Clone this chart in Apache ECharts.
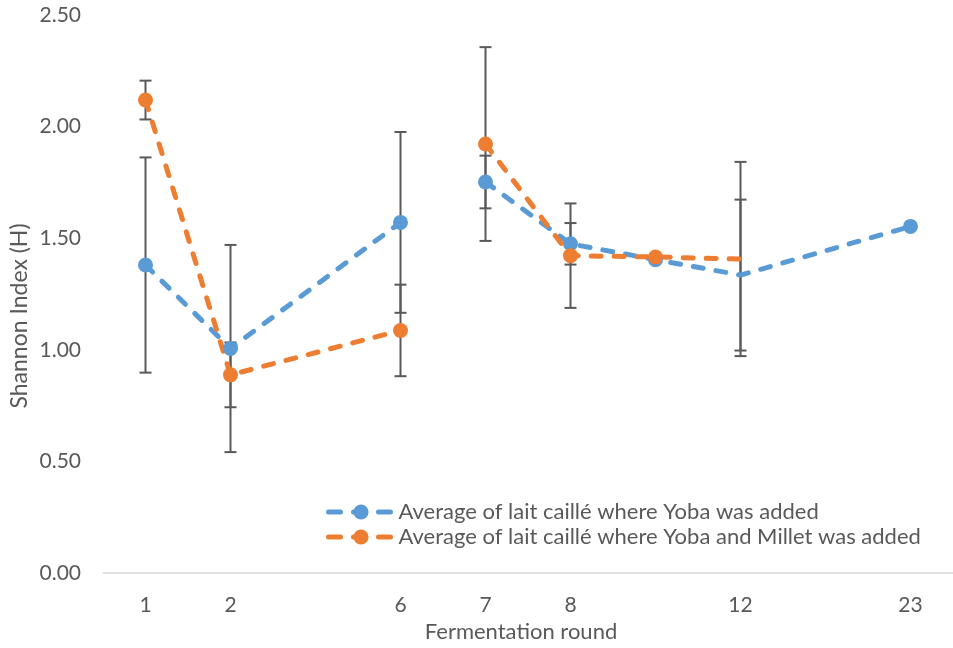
<!DOCTYPE html>
<html><head><meta charset="utf-8">
<script src="https://cdn.jsdelivr.net/npm/echarts@6/dist/echarts.min.js"></script>
<style>html,body{margin:0;padding:0;background:#fff}#c{width:953px;height:648px}</style>
</head><body><div id="c"></div>
<script>
// Data
const categories = ['1', '2', '', '6', '7', '8', '', '12', '', '23'];
const yobaMean   = [1.38, 1.006, null, 1.571, 1.752, 1.475, 1.404, 1.335, null, 1.553];
const yobaErr    = [0.482, 0.464, null, 0.405, 0.118, 0.093, null, 0.338, null, null];
const milletMean = [2.119, 0.888, null, 1.087, 1.922, 1.422, 1.416, 1.407, null, null];
const milletErr  = [0.087, 0.145, null, 0.205, 0.434, 0.234, null, 0.435, null, null];
const yobaName   = 'Average of lait caillé where Yoba was added';
const milletName = 'Average of lait caillé where Yoba and Millet was added';
const xTitle = 'Fermentation round';
const yTitle = 'Shannon Index (H)';
const segmentStarts = [0, 4];       // lines are broken between round 6 and 7
const noMarkerCategory = '12';

const FONT = 'Lato';
const GREY = '#595959';
const xKeys = categories.map((c, i) => c === '' ? '_' + i : c);

function lineSegments(name, mean, color) {
  const out = [];
  segmentStarts.forEach((s, k) => {
    const e = k + 1 < segmentStarts.length ? segmentStarts[k + 1] : mean.length;
    const data = mean.map((v, i) => {
      if (i < s || i >= e || v == null) return null;
      if (categories[i] === noMarkerCategory) return { value: v, symbol: 'none' };
      return v;
    });
    out.push({
      type: 'line', name: name, data: data, connectNulls: true,
      symbol: 'circle', symbolSize: 15, z: 3,
      itemStyle: { color: color },
      lineStyle: { color: color, width: 5, type: [10, 13], cap: 'round' },
      emphasis: { disabled: true }, animation: false
    });
  });
  return out;
}

function errorSeries(mean, err) {
  const data = [];
  mean.forEach((m, i) => { if (m != null && err[i] != null) data.push([i, m - err[i], m + err[i]]); });
  return {
    type: 'custom', name: 'err', z: 1, silent: true, animation: false,
    data: data, encode: { x: 0, y: [1, 2] },
    renderItem: (params, api) => {
      const x = api.value(0);
      const lo = api.coord([x, api.value(1)]);
      const hi = api.coord([x, api.value(2)]);
      const w = 6, st = { stroke: GREY, lineWidth: 2 };
      return { type: 'group', children: [
        { type: 'line', shape: { x1: lo[0], y1: lo[1], x2: hi[0], y2: hi[1] }, style: st },
        { type: 'line', shape: { x1: lo[0] - w, y1: lo[1], x2: lo[0] + w, y2: lo[1] }, style: st },
        { type: 'line', shape: { x1: hi[0] - w, y1: hi[1], x2: hi[0] + w, y2: hi[1] }, style: st }
      ]};
    }
  };
}

const chart = echarts.init(document.getElementById('c'), null, { renderer: 'canvas' });
chart.setOption({
  backgroundColor: '#fff',
  animation: false,
  grid: { left: 103, right: 0, top: 15, bottom: 68 },
  legend: {
    data: [yobaName, milletName], orient: 'vertical', left: 321, top: 496,
    itemWidth: 65, itemHeight: 19, itemGap: 3, selectedMode: false,
    lineStyle: { width: 5, type: [12, 13], cap: 'round' },
    textStyle: { fontFamily: FONT, fontSize: 22, color: GREY, lineHeight: 22 }
  },
  graphic: [{
    type: 'text', x: 8, y: 316, rotation: Math.PI / 2,
    style: { text: yTitle, fontFamily: FONT, fontSize: 23, fill: GREY, align: 'center', verticalAlign: 'top' }
  }],
  xAxis: {
    type: 'category', data: xKeys, boundaryGap: true,
    axisLine: { show: true, lineStyle: { color: '#d9d9d9', width: 1.5 } },
    axisTick: { show: false },
    axisLabel: { interval: 0, margin: 22, fontFamily: FONT, fontSize: 21, color: GREY,
      formatter: v => v.charAt(0) === '_' ? '' : v },
    name: xTitle, nameLocation: 'middle', nameGap: 47,
    nameTextStyle: { fontFamily: FONT, fontSize: 22, color: GREY, padding: [0, 14, 0, 0] }
  },
  yAxis: {
    type: 'value', min: 0, max: 2.5, interval: 0.5,
    axisLine: { show: false }, axisTick: { show: false }, splitLine: { show: false },
    axisLabel: { margin: 22, fontFamily: FONT, fontSize: 21, color: GREY, formatter: v => v.toFixed(2) }
  },
  series: [
    errorSeries(yobaMean, yobaErr),
    errorSeries(milletMean, milletErr),
    ...lineSegments(yobaName, yobaMean, '#5B9BD5'),
    ...lineSegments(milletName, milletMean, '#ED7D31')
  ]
});
</script></body></html>
